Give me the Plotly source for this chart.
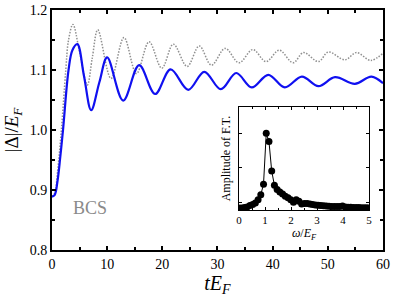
import plotly.graph_objects as go

# main panel: |Delta|/E_F vs t E_F
t_blue = [0, 0.5, 1.0, 1.5, 2.0, 3.0, 3.7, 4.6, 5.8, 7.1, 8.6, 10.0, 12.9, 15.8, 18.7,
          21.5, 24.7, 27.6, 30.6, 33.4, 36.2, 39.2, 42.2, 45.3, 48.3, 51.3, 54.9, 57.9, 60]
v_blue = [0.889, 0.892, 0.915, 0.955, 1.0, 1.1, 1.133, 1.143, 1.09, 1.033, 1.08, 1.121, 1.049,
          1.108, 1.060, 1.101, 1.067, 1.097, 1.068, 1.095, 1.071, 1.092, 1.071, 1.089,
          1.073, 1.088, 1.077, 1.089, 1.078]

t_gray = [0, 0.5, 1.0, 1.7, 2.5, 3.0, 3.8, 5.0, 6.4, 7.3, 8.3, 10.7, 13.05, 15.3, 17.6, 19.9,
          22.0, 24.5, 26.7, 28.9, 31.4, 33.9, 36.4, 38.8, 41.2, 43.7, 45.6, 48.3, 50.1,
          53.1, 55.2, 57.8, 60]
v_gray = [0.889, 0.895, 0.93, 1.0, 1.1, 1.15, 1.176, 1.13, 1.075, 1.12, 1.167, 1.086, 1.154,
          1.094, 1.147, 1.103, 1.143, 1.106, 1.140, 1.108, 1.136, 1.112, 1.134, 1.114,
          1.133, 1.112, 1.129, 1.114, 1.130, 1.117, 1.129, 1.116, 1.128]

# inset: Fourier-transform amplitude vs omega/E_F
omega = [0.0, 0.105, 0.209, 0.314, 0.419, 0.524, 0.628, 0.733, 0.838, 0.942, 1.047, 1.152,
         1.257, 1.361, 1.466, 1.571, 1.676, 1.780, 1.885, 1.990, 2.094, 2.199, 2.304,
         2.409, 2.513, 2.618, 2.723, 2.827, 2.932, 3.037, 3.142, 3.246, 3.351, 3.456,
         3.560, 3.665, 3.770, 3.875, 3.979, 4.084, 4.189, 4.294, 4.398, 4.503, 4.608,
         4.712, 4.817, 4.922]
amp = [0.02, 0.02, 0.025, 0.03, 0.045, 0.055, 0.07, 0.10, 0.15, 0.25, 0.745, 0.665, 0.38,
       0.24, 0.20, 0.175, 0.155, 0.135, 0.12, 0.10, 0.075, 0.10, 0.085, 0.06, 0.065,
       0.065, 0.06, 0.055, 0.05, 0.048, 0.045, 0.042, 0.04, 0.038, 0.036, 0.035, 0.035,
       0.036, 0.04, 0.03, 0.028, 0.027, 0.026, 0.025, 0.025, 0.024, 0.024, 0.023]

FONT = "Liberation Serif, Times New Roman, serif"
fig = go.Figure()
fig.add_trace(go.Scatter(x=t_gray, y=v_gray, mode="lines",
                         line=dict(color="#909090", width=1.5, dash="1.5px,1.5px", shape="spline"),
                         xaxis="x", yaxis="y", showlegend=False))
fig.add_trace(go.Scatter(x=t_blue, y=v_blue, mode="lines",
                         line=dict(color="#1010f0", width=2.2, shape="spline"),
                         xaxis="x", yaxis="y", showlegend=False))
fig.add_trace(go.Scatter(x=omega, y=amp, mode="lines+markers",
                         line=dict(color="black", width=1),
                         marker=dict(color="black", size=7),
                         xaxis="x2", yaxis="y2", showlegend=False))

ax_common = dict(showline=True, linecolor="black", mirror="ticks", ticks="inside",
                 tickcolor="black", showgrid=False, zeroline=False, automargin=False)

fig.update_layout(
    template="none",
    width=399, height=301, margin=dict(l=0, r=0, t=0, b=0),
    paper_bgcolor="white", plot_bgcolor="white",
    font=dict(family=FONT, color="black"),
    xaxis=dict(domain=[0.1303, 0.9599], range=[0, 60], dtick=10, tickwidth=1.5, ticklen=4,
               linewidth=2, tickfont=dict(size=14),
               minor=dict(dtick=5, ticks="inside", ticklen=3, tickcolor="black"),
               title=dict(text="<i>tE</i><sub><i>F</i></sub>", font=dict(size=20), standoff=4),
               anchor="y", **ax_common),
    yaxis=dict(domain=[0.1694, 0.9668], range=[0.8, 1.2], dtick=0.1, tickformat=".1f",
               tickwidth=1.5, ticklen=4, linewidth=2, tickfont=dict(size=14),
               minor=dict(dtick=0.05, ticks="inside", ticklen=3, tickcolor="black"),
               title=dict(text="|Δ|/<i>E</i><sub><i>F</i></sub>", font=dict(size=19), standoff=6),
               anchor="x", **ax_common),
    xaxis2=dict(domain=[0.599, 0.925], range=[0, 5], dtick=1, ticklen=3, linewidth=1.2,
                tickfont=dict(size=11),
                minor=dict(dtick=0.5, ticks="inside", ticklen=2, tickcolor="black"),
                title=dict(text="<i>ω</i>/<i>E</i><sub><i>F</i></sub>", font=dict(size=12), standoff=0),
                anchor="y2", **ax_common),
    yaxis2=dict(domain=[0.302, 0.6445], range=[0, 1.0], tickvals=[0.075, 0.41, 0.745],
                showticklabels=False, ticklen=3, linewidth=1.2,
                title=dict(text="Amplitude of F.T.", font=dict(size=12), standoff=4),
                anchor="x2", **ax_common),
    annotations=[dict(x=6.9, y=0.87, xref="x", yref="y", text="BCS", showarrow=False,
                      font=dict(size=18, color="#8a8a8a", family=FONT))],
)

fig.write_html("out.html", config={"displayModeBar": False},
               post_script="document.body.style.margin='0';document.body.style.overflow='hidden';")
